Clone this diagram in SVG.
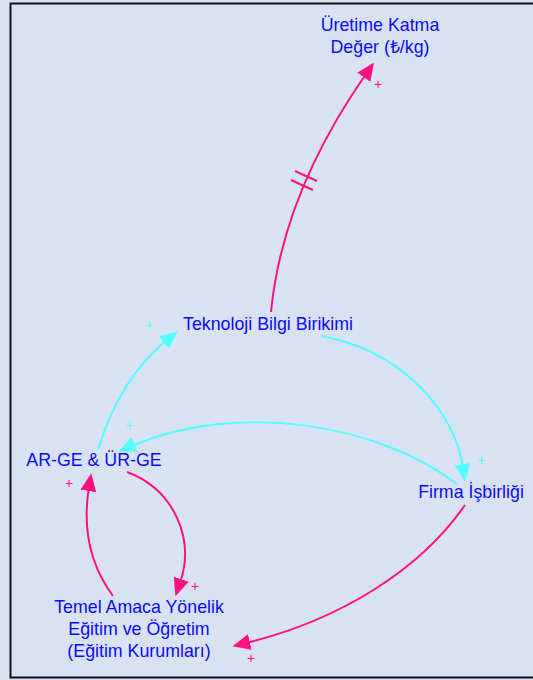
<svg xmlns="http://www.w3.org/2000/svg" width="533" height="680" viewBox="0 0 533 680">
  <defs>
    <marker id="head-pink" markerUnits="userSpaceOnUse" markerWidth="18" markerHeight="16" refX="4" refY="8" orient="auto">
      <path d="M0,0 L18,8 L0,16 z" fill="#ff1280"/>
    </marker>
    <marker id="head-cyan" markerUnits="userSpaceOnUse" markerWidth="18" markerHeight="16" refX="4" refY="8" orient="auto">
      <path d="M0,0 L18,8 L0,16 z" fill="#55ffff"/>
    </marker>
  </defs>
  <style>
    .lbl { font-family: "Liberation Sans", Arial, sans-serif; font-size: 17.8px; fill: #0a0aff; text-anchor: middle; }
    .sign { font-family: "Liberation Sans", Arial, sans-serif; font-size: 14px; text-anchor: middle; }
    .pink { fill: none; stroke: #ff1280; stroke-width: 2; }
    .cyan { fill: none; stroke: #55ffff; stroke-width: 2; }
    .sp { fill: #ff1280; }
    .sc { fill: #55ffff; }
  </style>

  <!-- canvas and frame -->
  <rect x="0" y="0" width="533" height="680" fill="#d9e2f3"/>
  <rect x="10.5" y="3.5" width="540" height="674" fill="#d9e2f3" stroke="#141418" stroke-width="2"/>

  <!-- connectors -->
  <g id="links">
    <path class="pink" d="M271,312 C280,220 320,140 366,74" marker-end="url(#head-pink)"/>
    <line class="pink" x1="295" y1="171" x2="317" y2="181"/>
    <line class="pink" x1="291" y1="180" x2="313" y2="190"/>
    <path class="cyan" d="M98,450 C110,410 130,370 167,340" marker-end="url(#head-cyan)"/>
    <path class="cyan" d="M321,336 C400,350 455,410 463,468" marker-end="url(#head-cyan)"/>
    <path class="cyan" d="M457,484 C380,425 240,400 131,446" marker-end="url(#head-cyan)"/>
    <path class="pink" d="M127,472 C175,490 195,540 180,583" marker-end="url(#head-pink)"/>
    <path class="pink" d="M113,596 C90,565 82,530 89,487" marker-end="url(#head-pink)"/>
    <path class="pink" d="M465,505 C420,570 340,620 246,643" marker-end="url(#head-pink)"/>

    <text class="sign sp" x="378" y="89">+</text>
    <text class="sign sc" x="149" y="330">+</text>
    <text class="sign sc" x="481" y="465">+</text>
    <text class="sign sc" x="129" y="430">+</text>
    <text class="sign sp" x="195" y="591">+</text>
    <text class="sign sp" x="69" y="488">+</text>
    <text class="sign sp" x="251" y="663">+</text>
  </g>

  <!-- nodes -->
  <g id="uretime-katma-deger">
    <text class="lbl" x="380" y="31">Üretime Katma</text>
    <text class="lbl" x="380" y="53">Değer (₺/kg)</text>
  </g>
  <g id="teknoloji-bilgi-birikimi">
    <text class="lbl" x="268" y="330">Teknoloji Bilgi Birikimi</text>
  </g>
  <g id="arge-urge">
    <text class="lbl" x="94" y="466">AR-GE &amp; ÜR-GE</text>
  </g>
  <g id="firma-isbirligi">
    <text class="lbl" x="471" y="498">Firma İşbirliği</text>
  </g>
  <g id="temel-egitim">
    <text class="lbl" x="139" y="613">Temel Amaca Yönelik</text>
    <text class="lbl" x="139" y="635">Eğitim ve Öğretim</text>
    <text class="lbl" x="139" y="657">(Eğitim Kurumları)</text>
  </g>
</svg>
